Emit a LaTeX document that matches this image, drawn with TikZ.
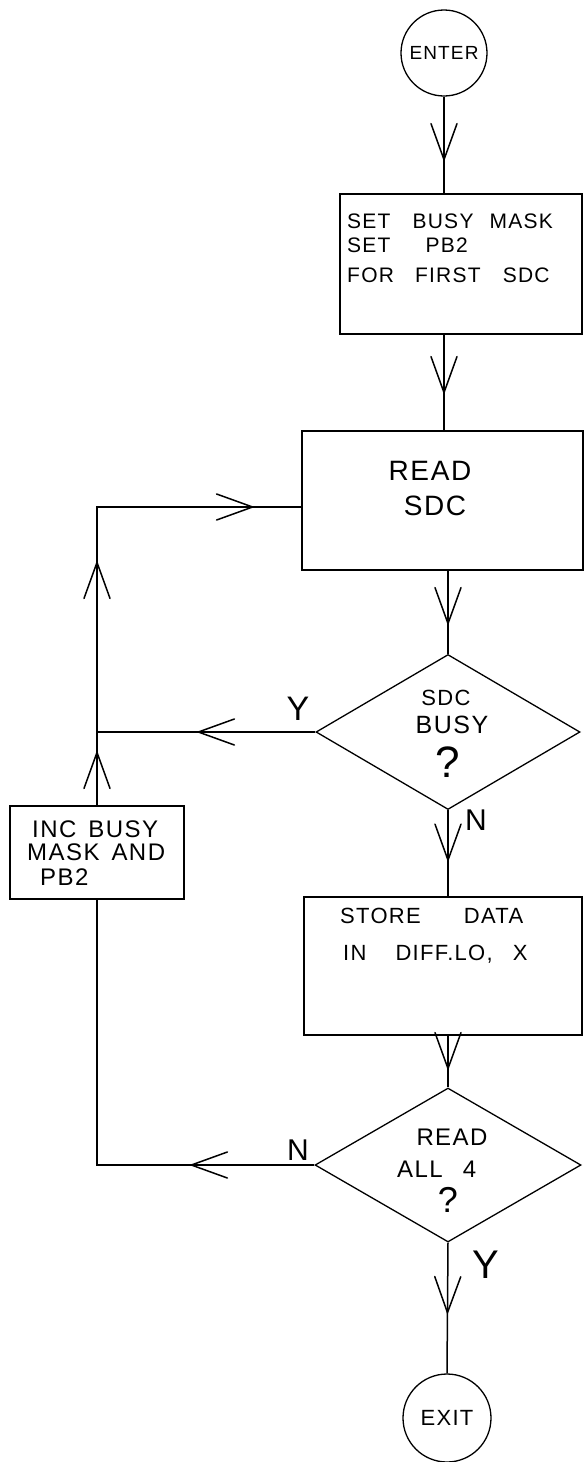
\documentclass[tikz,border=0pt]{standalone}
\usepackage{fontspec}
\setmainfont{Liberation Sans}[LetterSpace=6]
\usetikzlibrary{shapes.geometric,decorations.markings}
\newcommand\myvhead{\draw[solid,line width=1.5pt,line cap=round] (-36pt,13pt) -- (0pt,0pt) -- (-36pt,-13pt);}
\tikzset{
  fs/.style={font=\fontsize{#1}{#1}\selectfont},
  box/.style={draw, line width=1.2pt, rectangle, inner sep=0pt},
  term/.style={draw, line width=1.3pt, circle, inner sep=0pt, minimum size=#1},
  dec/.style={draw, line width=1.3pt, diamond, inner sep=0pt, aspect=1.7},
  conn/.style={line width=1.5pt},
  tipat/.style={postaction={decorate}, decoration={markings, mark=at position #1 with {\myvhead}}},
  lbl/.style={inner sep=0pt, anchor=base},
  txt/.style={inner sep=0pt, anchor=base west},
}
\begin{document}
\begin{tikzpicture}[x=1pt,y=-1pt]
\useasboundingbox[fill=white] (0,0) rectangle (584,1462);

% nodes
\node[term=86pt, fs=19] (enter) at (444,53) {ENTER};
\node[box, minimum width=242pt, minimum height=140pt] (b1) at (461,264) {};
\node[txt, fs=21] (b1l1) at (347,228) {SET\hspace{22pt}BUSY\hspace{16pt}MASK};
\node[txt, fs=21] (b1l2) at (347,252) {SET\hspace{35pt}PB2};
\node[txt, fs=21] (b1l3) at (347,282) {FOR\hspace{21pt}FIRST\hspace{22pt}SDC};

\node[box, minimum width=281pt, minimum height=139pt] (b2) at (442.5,500.5) {};
\node[lbl, fs=28] (b2l1) at (430,480) {READ};
\node[lbl, fs=28] (b2l2) at (435,515) {SDC};

\node[dec, minimum width=264pt, minimum height=155pt] (d1) at (448,732) {};
\node[lbl, fs=22] (d1l1) at (446,705) {SDC};
\node[lbl, fs=25] (d1l2) at (452,733) {BUSY};
\node[lbl, fs=44] (d1l3) at (448,777) {?};

\node[box, minimum width=174pt, minimum height=93pt] (inc) at (97,852.5) {};
\node[txt, fs=24] (incl1) at (32,837) {INC\hspace{12pt}BUSY};
\node[txt, fs=24] (incl2) at (27,860) {MASK\hspace{12pt}AND};
\node[txt, fs=24] (incl3) at (40,885) {PB2};

\node[box, minimum width=278pt, minimum height=138pt] (b3) at (443,966) {};
\node[txt, fs=22] (b3l1) at (340,923) {STORE\hspace{43pt}DATA};
\node[txt, fs=22] (b3l2) at (343,960) {IN\hspace{29pt}DIFF.LO,\hspace{20pt}X};

\node[dec, minimum width=266pt, minimum height=154pt] (d2) at (448,1165) {};
\node[lbl, fs=24] (d2l1) at (452,1145) {READ};
\node[txt, fs=24] (d2l2) at (397,1177) {ALL\hspace{20pt}4};
\node[lbl, fs=36] (d2l3) at (448,1212) {?};

\node[term=88pt, fs=22] (exit) at (447,1418) {EXIT};

% branch labels
\node[lbl, fs=34] (ly1) at (298,720) {Y};
\node[lbl, fs=30] (ln1) at (476,830) {N};
\node[lbl, fs=30] (ln2) at (298,1160) {N};
\node[lbl, fs=40] (ly2) at (486,1278) {Y};

% helper coordinates
\coordinate (j1) at (97,732);
\coordinate (c1) at (97,507);
\coordinate (c2) at (inc.south |- d2.west);

% connectors
\draw[conn, tipat=63pt] (enter.south) -- (enter.south |- b1.north);
\draw[conn, tipat=58pt] (b1.south -| enter.south) -- (b2.north -| enter.south);
\draw[conn, tipat=53pt] (b2.south -| d1.north) -- (d1.north);
\draw[conn, tipat=50pt] (d1.south) -- (d1.south |- b3.north);
\draw[conn, tipat=33pt] (b3.south -| d2.north) -- (d2.north);
\draw[conn, tipat=70pt] (d2.south) -- (exit.north);
\draw[conn, tipat=117pt] (d1.west) -- (j1);
\draw[conn, postaction={decorate}, decoration={markings,
    mark=at position 53pt with {\myvhead},
    mark=at position 243pt with {\myvhead},
    mark=at position 454pt with {\myvhead}}]
  (inc.north) -- (c1) -- (c1 -| b2.west);
\draw[conn, tipat=123pt] (d2.west) -- (c2) -- (inc.south);
\end{tikzpicture}
\end{document}
